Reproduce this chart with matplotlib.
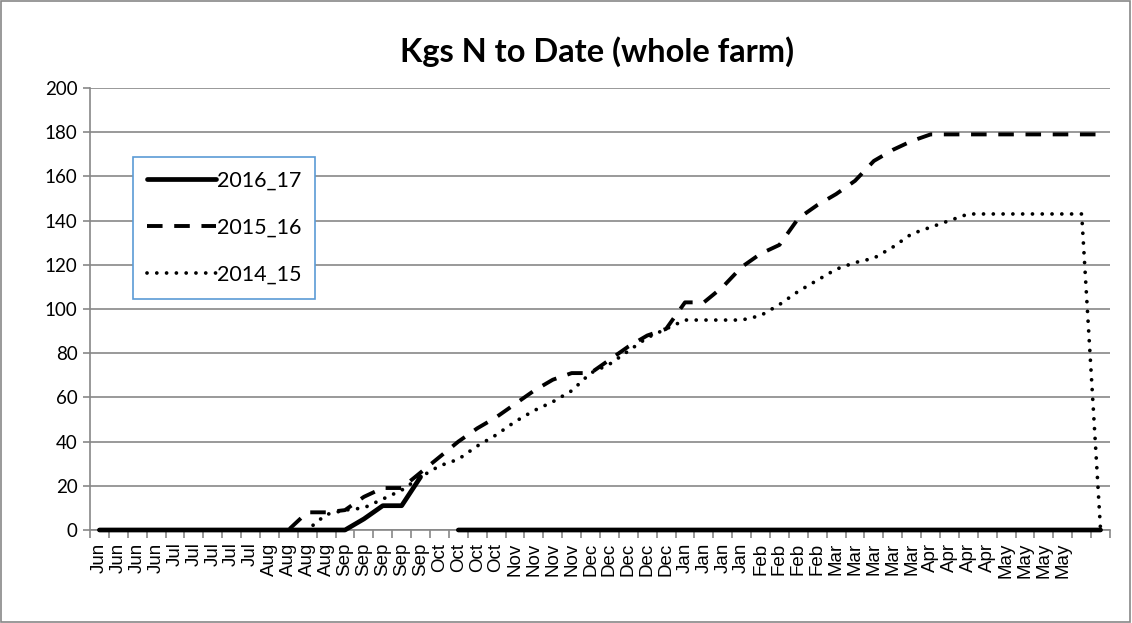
import numpy as np
import matplotlib.pyplot as plt
from matplotlib.patches import Rectangle

# weekly categories, Jun -> May, two trailing blanks
months = (['Jun'] * 4 + ['Jul'] * 5 + ['Aug'] * 4 + ['Sep'] * 5 + ['Oct'] * 4 +
          ['Nov'] * 4 + ['Dec'] * 5 + ['Jan'] * 4 + ['Feb'] * 4 + ['Mar'] * 5 +
          ['Apr'] * 4 + ['May'] * 4 + ['', ''])

nan = np.nan
s2016_17 = [0] * 13 + [0, 5, 11, 11, 24, nan] + [0] * 35

s2015_16 = [0] * 11 + [8, 8, 9, 15, 19, 19, 26, 33, 40, 46, 51, 57, 63, 68, 71, 71,
                       77, 83, 88, 91, 103, 103, 110, 119, 125, 129, 141, 147, 152,
                       158, 167, 172, 176] + [179] * 10

s2014_15 = [0] * 12 + [7, 9, 10, 14, 18, 24, 29, 32, 38, 43, 49, 54, 58, 63, 71, 75,
                       81, 87, 91, 95, 95, 95, 95, 97, 102, 108, 113, 118, 121, 123,
                       128, 134, 137, 140] + [143] * 7 + [0]

x = np.arange(len(months))
grey = '#878787'

fig = plt.figure(figsize=(11.32, 6.23), dpi=100)
ax = fig.add_axes([90 / 1132, 1 - 530 / 623, 1020 / 1132, 442 / 623])

ax.plot(x, s2016_17, color='black', lw=3.4, solid_capstyle='round', label='2016_17',
        clip_on=False, zorder=4)
ax.plot(x, s2015_16, color='black', lw=2.8, linestyle=(0, (4, 3)), label='2015_16',
        clip_on=False, zorder=3)
ax.plot(x, s2014_15, color='black', lw=2.7, linestyle=(0, (0.01, 2.6)),
        dash_capstyle='round', label='2014_15', clip_on=False, zorder=3)

ax.set_xlim(-0.5, len(months) - 0.5)
ax.set_ylim(0, 200)
ax.set_yticks(range(0, 201, 20))
ax.grid(axis='y', color=grey, lw=1.2)
ax.set_axisbelow(True)

ax.set_xticks(x)
ax.set_xticklabels(months, rotation=90, fontsize=13.5, family='Liberation Sans')
ax.set_xticks(np.arange(-0.5, len(months)), minor=True)
ax.tick_params(axis='x', which='major', length=0, pad=9)
ax.tick_params(axis='x', which='minor', length=6, color=grey, width=1.2)
ax.tick_params(axis='y', length=5, color=grey, width=1.2, labelsize=13.5, pad=4)
for lab in ax.get_yticklabels():
    lab.set_family('Lato')

for side in ['top', 'right']:
    ax.spines[side].set_visible(False)
for side in ['left', 'bottom']:
    ax.spines[side].set_color(grey)
    ax.spines[side].set_linewidth(1.2)

leg = ax.legend(loc='upper left', bbox_to_anchor=(0.042, 0.844), borderaxespad=0,
                handlelength=3.2, labelspacing=1.25, handletextpad=0.05,
                borderpad=0.65, fancybox=False, prop={'family': 'Lato', 'size': 15.5})
leg.get_frame().set_edgecolor('#5b9bd5')
leg.get_frame().set_linewidth(1.2)
leg.get_frame().set_alpha(1)

fig.text(597 / 1132, 1 - 52 / 623, 'Kgs N to Date (whole farm)', ha='center', va='center',
         fontsize=23.5, fontweight='bold', family='Lato')

fig.patches.append(Rectangle((0.001, 0.002), 0.997, 0.996, transform=fig.transFigure,
                             fill=False, edgecolor=grey, lw=1.2))

fig.savefig('out.png', dpi=100)
